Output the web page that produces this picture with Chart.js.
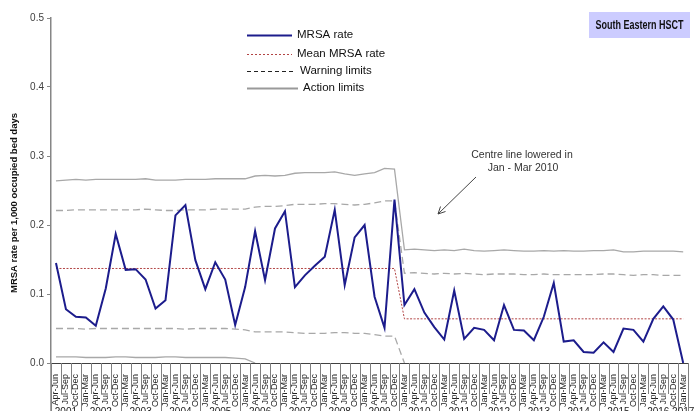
<!DOCTYPE html>
<html>
<head>
<meta charset="utf-8">
<script src="https://cdn.jsdelivr.net/npm/chart.js@4"></script>
<style>
  html, body { margin: 0; padding: 0; background: #fff; }
  #wrap { width: 697px; height: 411px; overflow: hidden; }
</style>
</head>
<body>
<div id="wrap"><canvas id="mrsa" width="697" height="411"></canvas></div>
<script>
// quarters Apr-Jun 2001 .. Jan-Mar 2017
const years = ['2001','2002','2003','2004','2005','2006','2007','2008','2009',
               '2010','2011','2012','2013','2014','2015','2016','2017'];
const quarterNames = ['Jan-Mar','Apr-Jun','Jul-Sep','Oct-Dec'];
const quarters = [];
years.forEach(function (y, yi) {
  quarterNames.forEach(function (q, qi) {
    if (yi === 0 && qi === 0) return;          // series starts Apr-Jun 2001
    if (yi === years.length - 1 && qi > 0) return; // ends Jan-Mar 2017
    quarters.push(q);
  });
});

const mrsaRate = [0.145,0.078,0.067,0.066,0.054,0.108,0.187,0.135,0.136,0.121,
                  0.079,0.091,0.214,0.229,0.149,0.107,0.146,0.121,0.055,0.110,
                  0.191,0.120,0.195,0.220,0.110,0.127,0.141,0.154,0.222,0.113,
                  0.182,0.200,0.096,0.051,0.237,0.084,0.107,0.073,0.052,0.034,
                  0.105,0.035,0.051,0.048,0.033,0.084,0.048,0.047,0.033,0.067,
                  0.116,0.031,0.033,0.016,0.015,0.030,0.016,0.050,0.048,0.031,
                  0.064,0.082,0.063,0.000];

const meanRate = [0.137,0.137,0.137,0.137,0.137,0.137,0.137,0.137,0.137,0.137,
                  0.137,0.137,0.137,0.137,0.137,0.137,0.137,0.137,0.137,0.137,
                  0.137,0.137,0.137,0.137,0.137,0.137,0.137,0.137,0.137,0.137,
                  0.137,0.137,0.137,0.137,0.137,0.064,0.064,0.064,0.064,0.064,
                  0.064,0.064,0.064,0.064,0.064,0.064,0.064,0.064,0.064,0.064,
                  0.064,0.064,0.064,0.064,0.064,0.064,0.064,0.064,0.064,0.064,
                  0.064,0.064,0.064,0.064];

const actionUpper = [0.264,0.265,0.266,0.265,0.266,0.266,0.266,0.266,0.266,0.267,
                     0.265,0.265,0.265,0.266,0.266,0.266,0.267,0.267,0.267,0.267,
                     0.271,0.272,0.271,0.272,0.275,0.276,0.276,0.276,0.277,0.274,
                     0.272,0.274,0.276,0.282,0.281,0.164,0.165,0.164,0.163,0.164,
                     0.163,0.165,0.163,0.162,0.163,0.164,0.163,0.162,0.162,0.163,
                     0.162,0.163,0.162,0.162,0.163,0.163,0.164,0.161,0.161,0.162,
                     0.162,0.162,0.162,0.161];

const warnUpper = [0.221,0.221,0.222,0.222,0.222,0.222,0.222,0.222,0.222,0.223,
                   0.222,0.221,0.221,0.222,0.222,0.222,0.223,0.223,0.223,0.223,
                   0.226,0.227,0.227,0.228,0.230,0.230,0.230,0.231,0.231,0.230,
                   0.229,0.230,0.232,0.235,0.235,0.130,0.131,0.130,0.129,0.130,
                   0.129,0.130,0.129,0.128,0.129,0.129,0.129,0.128,0.128,0.129,
                   0.128,0.128,0.128,0.128,0.128,0.129,0.129,0.128,0.127,0.128,
                   0.128,0.127,0.127,0.127];

const warnLower = [0.050,0.050,0.050,0.049,0.050,0.050,0.050,0.050,0.050,0.050,
                   0.050,0.050,0.050,0.049,0.050,0.050,0.050,0.050,0.049,0.048,
                   0.045,0.045,0.045,0.045,0.044,0.043,0.043,0.043,0.044,0.044,
                   0.043,0.043,0.041,0.039,0.039,0.000,null,null,null,null,
                   null,null,null,null,null,null,null,null,null,null,
                   null,null,null,null,null,null,null,null,null,null,
                   null,null,null,null];

const actionLower = [0.009,0.009,0.009,0.008,0.008,0.008,0.009,0.009,0.008,0.008,
                     0.008,0.009,0.009,0.008,0.008,0.008,0.008,0.008,0.007,0.006,
                     0.000,null,null,null,null,null,null,null,null,null,
                     null,null,null,null,null,null,null,null,null,null,
                     null,null,null,null,null,null,null,null,null,null,
                     null,null,null,null,null,null,null,null,null,null,
                     null,null,null,null];

const FONT = '"Liberation Sans", Arial, sans-serif';
const NAVY = '#1c1c8c';
const MEANRED = '#b24444';
const LIMITGREY = '#a8a8a8';

// legend, heading box, annotation, two-level category axis
const decorations = {
  id: 'decorations',
  afterDraw(chart) {
    const ctx = chart.ctx;
    const a = chart.chartArea;
    const n = quarters.length;
    const w = (a.right - a.left) / n;
    ctx.save();

    // category separators and years row
    ctx.strokeStyle = '#7f7f7f';
    ctx.lineWidth = 1;
    const yearStarts = [0];
    quarters.forEach(function (q, i) { if (q === 'Jan-Mar') yearStarts.push(i); });
    yearStarts.push(n);
    for (let i = 0; i <= n; i++) {
      const bx = Math.round(a.left + i * w) + 0.5;
      const long = yearStarts.indexOf(i) >= 0;
      ctx.beginPath();
      ctx.moveTo(bx, a.bottom);
      ctx.lineTo(bx, long ? 411 : a.bottom + 31);
      ctx.stroke();
    }
    ctx.fillStyle = '#222';
    ctx.font = '10px ' + FONT;
    ctx.textAlign = 'center';
    ctx.textBaseline = 'top';
    for (let k = 0; k < yearStarts.length - 1; k++) {
      const cx = a.left + (yearStarts[k] + yearStarts[k + 1]) / 2 * w;
      ctx.fillText(years[k], cx, a.bottom + 44);
    }

    // y axis line continues through label rows
    ctx.strokeStyle = '#868686';
    ctx.lineWidth = 1.5;
    ctx.beginPath();
    ctx.moveTo(a.left, a.bottom);
    ctx.lineTo(a.left, 411);
    ctx.stroke();

    // y axis title
    ctx.save();
    ctx.translate(14, 203);
    ctx.rotate(-Math.PI / 2);
    ctx.font = 'bold 9.5px ' + FONT;
    ctx.fillStyle = '#111';
    ctx.textAlign = 'center';
    ctx.textBaseline = 'middle';
    ctx.fillText('MRSA rate per 1,000 occupied bed days', 0, 0);
    ctx.restore();

    // legend
    const entries = [
      { text: 'MRSA rate', y: 35, tx: 297, color: NAVY, width: 2, dash: [] },
      { text: 'Mean MRSA rate', y: 54, tx: 297, color: MEANRED, width: 1, dash: [2, 2] },
      { text: 'Warning limits', y: 71, tx: 300, color: '#222', width: 1, dash: [4, 3] },
      { text: 'Action limits', y: 88, tx: 303, color: '#999', width: 2, dash: [] }
    ];
    ctx.font = '11.5px ' + FONT;
    ctx.textAlign = 'left';
    ctx.textBaseline = 'middle';
    entries.forEach(function (e) {
      ctx.strokeStyle = e.color;
      ctx.lineWidth = e.width;
      ctx.setLineDash(e.dash);
      ctx.beginPath();
      ctx.moveTo(247, e.y + 0.5);
      ctx.lineTo(e.tx - 5, e.y + 0.5);
      ctx.stroke();
      ctx.setLineDash([]);
      ctx.fillStyle = '#111';
      ctx.fillText(e.text, e.tx, e.y);
    });

    // heading box
    ctx.fillStyle = '#ccccff';
    ctx.fillRect(589, 12, 101, 26);
    ctx.font = 'bold 13px ' + FONT;
    ctx.fillStyle = '#111';
    const head = 'South Eastern HSCT';
    const hw = ctx.measureText(head).width;
    ctx.save();
    ctx.translate(639.5, 25.5);
    ctx.scale(88 / hw, 1);
    ctx.textAlign = 'center';
    ctx.fillText(head, 0, 0);
    ctx.restore();

    // annotation
    ctx.fillStyle = '#333';
    ctx.font = '10.5px ' + FONT;
    ctx.textAlign = 'center';
    ctx.fillText('Centre line lowered in', 522, 155);
    ctx.fillText('Jan - Mar 2010', 523, 168);
    ctx.strokeStyle = '#444';
    ctx.lineWidth = 1;
    ctx.beginPath();
    ctx.moveTo(476, 177);
    ctx.lineTo(438, 214);
    ctx.moveTo(438, 214);
    ctx.lineTo(440.5, 206.5);
    ctx.moveTo(438, 214);
    ctx.lineTo(445.5, 211.5);
    ctx.stroke();

    ctx.restore();
  }
};

function limitLine(label, values, dashed) {
  return {
    label: label,
    data: values,
    borderColor: LIMITGREY,
    borderWidth: 1.3,
    borderDash: dashed ? [7, 4] : [],
    pointRadius: 0,
    tension: 0,
    spanGaps: false
  };
}

new Chart(document.getElementById('mrsa'), {
  type: 'line',
  data: {
    labels: quarters,
    datasets: [
      { label: 'MRSA rate', data: mrsaRate, borderColor: NAVY, borderWidth: 2,
        pointRadius: 0, tension: 0 },
      { label: 'Mean MRSA rate', data: meanRate, borderColor: MEANRED, borderWidth: 1,
        borderDash: [2, 1.5], pointRadius: 0, tension: 0 },
      limitLine('Warning limits', warnUpper, true),
      limitLine('Warning limits (lower)', warnLower, true),
      limitLine('Action limits', actionUpper, false),
      limitLine('Action limits (lower)', actionLower, false)
    ]
  },
  options: {
    responsive: false,
    devicePixelRatio: 1,
    animation: false,
    layout: { autoPadding: false, padding: { top: 18, right: 0, left: 0, bottom: 0 } },
    plugins: { legend: { display: false }, tooltip: { enabled: false } },
    scales: {
      x: {
        offset: true,
        afterFit: function (s) { s.height = 48; },
        grid: { display: false },
        border: { display: true, color: '#404040', width: 1 },
        ticks: {
          autoSkip: false, maxRotation: 90, minRotation: 90, padding: 3,
          color: '#222', font: { family: FONT, size: 9 }
        }
      },
      y: {
        min: 0, max: 0.5,
        afterFit: function (s) { s.width = 51; },
        grid: { drawOnChartArea: false, drawTicks: true, tickLength: 4, color: '#868686' },
        border: { display: true, color: '#868686', width: 1.5 },
        ticks: {
          stepSize: 0.1, padding: 3, color: '#404040',
          font: { family: FONT, size: 10 },
          callback: function (v) { return v.toFixed(1); }
        }
      }
    }
  },
  plugins: [decorations]
});
</script>
</body>
</html>
